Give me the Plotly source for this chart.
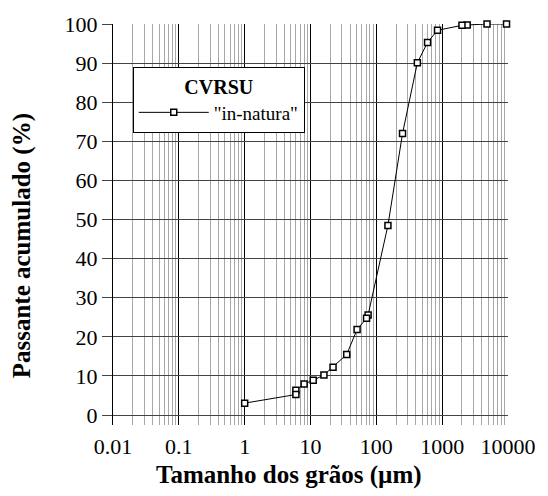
import plotly.graph_objects as go

# Data: grain size (µm) vs cumulative passing (%)
grain_size_um = [9500, 4800, 2400, 2000, 850, 600, 420, 250, 150, 75, 71, 51, 35.5, 22, 16, 11, 8, 6, 6, 1]
passing_pct = [100, 100, 99.75, 99.65, 98.4, 95.3, 90.1, 72.0, 48.5, 25.6, 24.75, 21.9, 15.5, 12.2, 10.25, 8.9, 7.97, 6.36, 5.25, 3.05]

x_tickvals = [0.01, 0.1, 1, 10, 100, 1000, 10000]
x_ticktext = ["0.01", "0.1", "1", "10", "100", "1000", "10000"]
y_tickvals = [0, 10, 20, 30, 40, 50, 60, 70, 80, 90, 100]

series_name = '"in-natura"'
legend_title = "CVRSU"
x_title = "Tamanho dos grãos (µm)"
y_title = "Passante acumulado (%)"

FONT = "'Liberation Serif', 'Times New Roman', Times, 'DejaVu Serif', serif"

fig = go.Figure()
fig.add_trace(go.Scatter(
    x=grain_size_um, y=passing_pct, mode="lines+markers", name=series_name,
    line=dict(color="black", width=1),
    marker=dict(symbol="square", size=6, color="white", line=dict(color="black", width=1.5)),
    cliponaxis=False,
))

fig.update_layout(
    width=548, height=496,
    margin=dict(l=113, r=40, t=21, b=71),
    paper_bgcolor="white", plot_bgcolor="white",
    font=dict(family=FONT, color="black", size=21),
    showlegend=True,
    legend=dict(
        x=0.05, y=0.894, xanchor="left", yanchor="top",
        bgcolor="white", bordercolor="black", borderwidth=1,
        title=dict(text="<b>" + legend_title + "</b>", side="top center", font=dict(size=20, family=FONT)),
        font=dict(size=19, family=FONT), itemwidth=70,
    ),
    annotations=[
        dict(text="<b>" + x_title + "</b>", xref="paper", yref="paper", x=0.446, y=-0.124,
             xanchor="center", yanchor="middle", showarrow=False, font=dict(size=25, family=FONT)),
        dict(text="<b>" + y_title + "</b>", xref="paper", yref="paper", x=-0.23, y=0.446,
             xanchor="center", yanchor="middle", textangle=-90, showarrow=False, font=dict(size=25, family=FONT)),
    ],
)

fig.update_xaxes(
    type="log", range=[-2, 4],
    tickvals=x_tickvals, ticktext=x_ticktext,
    showgrid=True, gridcolor="black", gridwidth=1,
    minor=dict(dtick="D1", showgrid=True, gridcolor="#a8a8a8", gridwidth=1),
    showline=False, zeroline=False, ticks="", ticklabelstandoff=6,
    tickfont=dict(size=22, family=FONT),
)
fig.update_yaxes(
    range=[-2.54, 100], tickvals=y_tickvals,
    showgrid=True, gridcolor="#444444", gridwidth=1,
    showline=True, linecolor="black", linewidth=1,
    zeroline=False, ticks="outside", ticklen=10, tickcolor="#444444",
    tickfont=dict(size=22, family=FONT),
)

fig.write_html("out.html")
